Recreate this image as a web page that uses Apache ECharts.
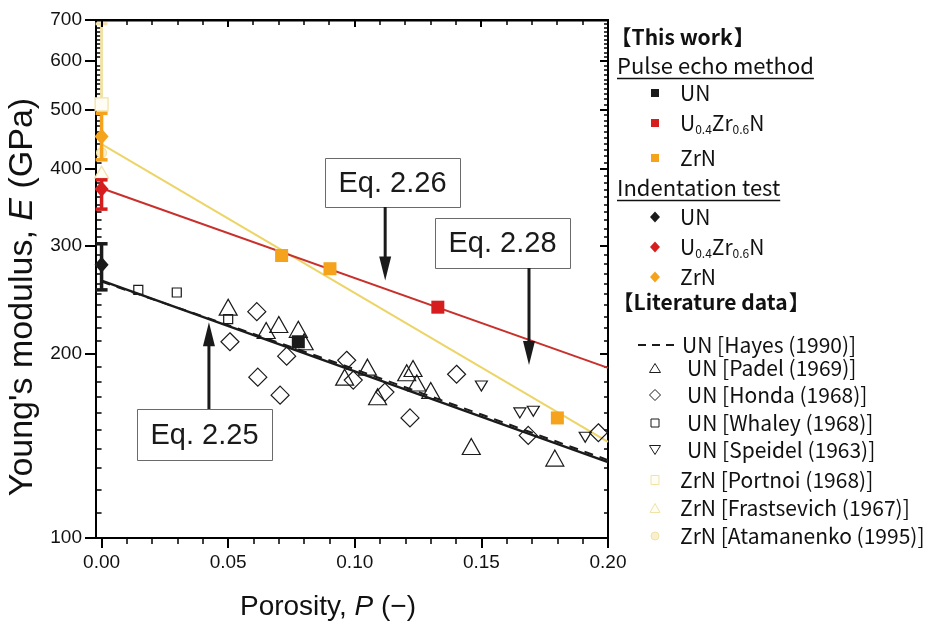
<!DOCTYPE html>
<html>
<head>
<meta charset="utf-8">
<script src="https://cdn.jsdelivr.net/npm/echarts@6/dist/echarts.min.js"></script>
<style>
  html, body { margin: 0; padding: 0; background: #ffffff; }
  #main { width: 933px; height: 627px; }
</style>
</head>
<body>
<div id="main"></div>
<script>
// Young's modulus E (GPa) of UN, U0.4Zr0.6N and ZrN against porosity P (-)

// ---- axes ----
const xRange = [-0.0022, 0.20];
const yRange = [100, 700];
const xMajorTicks = [0, 0.05, 0.10, 0.15, 0.20];
const xMinorTicks = [0.01, 0.02, 0.03, 0.04, 0.06, 0.07, 0.08, 0.09, 0.11, 0.12, 0.13, 0.14, 0.16, 0.17, 0.18, 0.19];
const yMajorTicks = [100, 200, 300, 400, 500, 600, 700];
const yMinorTicks = [];
for (let v = 110; v < 700; v += 10) { if (v % 100 !== 0) yMinorTicks.push(v); }

// ---- this work: pulse echo method [P, E] ----
const pulseUN = [[0.0777, 209]];
const pulseUZrN = [[0.1328, 238]];
const pulseZrN = [[0.0711, 289], [0.0902, 275], [0.180, 157]];

// ---- this work: indentation test [P, E, low, high] ----
const indentUN = [[0, 279, 254, 302]];
const indentUZrN = [[0, 371, 344, 384]];
const indentZrN = [[0, 452, 414, 493]];

// ---- fitted relations [P, E] ----
const eq225UN = [[0, 263], [0.20, 133]];
const eq226UZrN = [[0, 372], [0.20, 189.5]];
const eq228ZrN = [[0, 439], [0.20, 143.5]];

// ---- literature data ----
const hayesUN = [[0, 262], [0.05, 222.5], [0.10, 188.5], [0.15, 159], [0.20, 134]];
const padelUN = [[0.050, 238], [0.065, 218], [0.070, 223], [0.0777, 219], [0.080, 209],
  [0.096, 183], [0.105, 190], [0.109, 170], [0.1205, 186], [0.123, 189], [0.1245, 179],
  [0.130, 174], [0.146, 141], [0.179, 135]];
const hondaUN = [[0.0507, 209], [0.0613, 234], [0.0617, 183], [0.0705, 171], [0.0731, 198],
  [0.0968, 195], [0.0994, 181], [0.1119, 173], [0.1218, 157], [0.1402, 185], [0.1685, 147],
  [0.1962, 148.5]];
const whaleyUN = [[0.0145, 254], [0.0297, 251.5], [0.050, 227.5]];
const speidelUN = [[0.150, 177], [0.1652, 160], [0.1705, 161], [0.191, 146]];
const portnoiZrN = [[0, 510, 510, 690]];
const frastsevichZrN = [[0, 395]];
const atamanenkoZrN = [[0, 425]];

// ---- colours ----
const BLACK = '#1b1b1b';
const RED = '#d61e1e';
const RED_LINE = '#c8302c';
const ORANGE = '#f5a21c';
const YELLOW_LINE = '#ecd566';
const PALE = '#f8efcf';
const PALE_EDGE = '#f1e2a8';

const FONT = '"Liberation Sans", Arial, sans-serif';
const LFONT = '"Noto Sans CJK JP", "Noto Sans", sans-serif';

const chart = echarts.init(document.getElementById('main'), null, { renderer: 'canvas' });

const GRID = { left: 96, top: 20, width: 512, height: 518, containLabel: false, outerBoundsMode: 'none' };

const xBase = {
  type: 'value', min: xRange[0], max: xRange[1],
  splitLine: { show: false }, axisLine: { show: false },
  axisLabel: { show: false }, axisTick: { show: false }
};
const yBase = {
  type: 'log', logBase: 10, min: yRange[0], max: yRange[1],
  splitLine: { show: false }, axisLine: { show: false },
  axisLabel: { show: false }, axisTick: { show: false }
};
function frameLine() { return { show: true, onZero: false, lineStyle: { color: '#000', width: 2 } }; }

function errorBars(color, width, z) {
  return {
    type: 'custom', z: z, xAxisIndex: 0, yAxisIndex: 0,
    renderItem: function (params, api) {
      const x = api.value(0);
      const top = api.coord([x, api.value(3)]);
      const bot = api.coord([x, api.value(2)]);
      const cap = 6;
      const st = { stroke: color, lineWidth: width };
      return {
        type: 'group', children: [
          { type: 'line', shape: { x1: top[0], y1: top[1], x2: bot[0], y2: bot[1] }, style: st },
          { type: 'line', shape: { x1: top[0] - cap, y1: top[1], x2: top[0] + cap, y2: top[1] }, style: st },
          { type: 'line', shape: { x1: bot[0] - cap, y1: bot[1], x2: bot[0] + cap, y2: bot[1] }, style: st }
        ]
      };
    },
    encode: { x: 0, y: 1 }
  };
}

function scatter(name, data, symbol, size, fill, stroke, z, rotate) {
  return {
    name: name, type: 'scatter', data: data, symbol: symbol, symbolSize: size,
    symbolRotate: rotate || 0, z: z, xAxisIndex: 0, yAxisIndex: 0,
    itemStyle: { color: fill, borderColor: stroke, borderWidth: stroke ? 1.2 : 0, opacity: 1 },
    emphasis: { disabled: true }, silent: true
  };
}

function fitLine(name, data, color, width, type, z) {
  return {
    name: name, type: 'line', data: data, showSymbol: false, z: z, silent: true,
    xAxisIndex: 0, yAxisIndex: 0,
    lineStyle: { color: color, width: width, type: type || 'solid' }
  };
}

const option = {
  backgroundColor: '#ffffff',
  animation: false,
  // grid 0 carries the data and the major ticks; grid 1 (same box) the minor ticks
  grid: [Object.assign({}, GRID), Object.assign({}, GRID)],
  xAxis: [
    Object.assign({}, xBase, {
      gridIndex: 0, position: 'bottom',
      name: 'Porosity, {i|P} (\u2212)', nameLocation: 'middle', nameGap: 55,
      nameTextStyle: { fontSize: 28, fontFamily: FONT, color: '#111', padding: [0, 48, 0, 0],
        rich: { i: { fontSize: 28, fontFamily: FONT, fontStyle: 'italic', color: '#111' } } },
      axisLine: frameLine(),
      axisTick: { show: true, inside: false, length: 10, lineStyle: { color: '#000', width: 2 }, customValues: xMajorTicks },
      axisLabel: { show: true, customValues: xMajorTicks, margin: 15, fontSize: 19, fontFamily: FONT, color: '#111',
        formatter: function (v) { return v.toFixed(2); } }
    }),
    Object.assign({}, xBase, {
      gridIndex: 1, position: 'bottom',
      axisTick: { show: true, inside: false, length: 6, lineStyle: { color: '#000', width: 1.5 }, customValues: xMinorTicks }
    })
  ],
  yAxis: [
    Object.assign({}, yBase, {
      gridIndex: 0, position: 'left',
      name: "Young's modulus, {i|E} (GPa)", nameLocation: 'middle', nameGap: 52,
      nameTextStyle: { fontSize: 34, fontFamily: FONT, color: '#111', padding: [0, 36, 0, 0],
        rich: { i: { fontSize: 34, fontFamily: FONT, fontStyle: 'italic', color: '#111' } } },
      axisLine: frameLine(),
      axisTick: { show: true, inside: false, length: 11, lineStyle: { color: '#000', width: 2 }, customValues: yMajorTicks },
      axisLabel: { show: true, customValues: yMajorTicks, margin: 14, fontSize: 19, fontFamily: FONT, color: '#111',
        formatter: function (v) { return String(Math.round(v)); } }
    }),
    Object.assign({}, yBase, {
      gridIndex: 0, position: 'right',
      axisLine: frameLine(),
      axisTick: { show: true, inside: true, length: 8, lineStyle: { color: '#000', width: 2 }, customValues: yMajorTicks }
    }),
    Object.assign({}, yBase, {
      gridIndex: 1, position: 'left',
      axisTick: { show: true, inside: false, length: 5, lineStyle: { color: '#000', width: 1.5 }, customValues: yMinorTicks }
    }),
    Object.assign({}, yBase, {
      gridIndex: 1, position: 'right',
      axisTick: { show: true, inside: true, length: 4, lineStyle: { color: '#000', width: 1.5 }, customValues: yMinorTicks }
    })
  ],
  series: [
    // faint ZrN literature values
    Object.assign(errorBars(PALE_EDGE, 3, 1), { data: portnoiZrN }),
    scatter('ZrN [Portnoi (1968)]', portnoiZrN.map(d => [d[0], d[1]]), 'rect', 13, '#fffdf4', PALE_EDGE, 2),
    scatter('ZrN [Frastsevich (1967)]', frastsevichZrN, 'triangle', [14, 12], '#fffdf4', PALE_EDGE, 2),
    scatter('ZrN [Atamanenko (1995)]', atamanenkoZrN, 'circle', 10, PALE, PALE_EDGE, 2),

    // fitted relations
    fitLine('Eq. 2.28', eq228ZrN, YELLOW_LINE, 2, 'solid', 3),
    fitLine('Eq. 2.26', eq226UZrN, RED_LINE, 2, 'solid', 3),
    fitLine('UN [Hayes (1990)]', hayesUN, BLACK, 2, [9, 7], 3),
    fitLine('Eq. 2.25', eq225UN, BLACK, 2.4, 'solid', 4),

    // literature UN data (open symbols)
    scatter('UN [Padel (1969)]', padelUN, 'triangle', [18, 16], 'rgba(255,255,255,0)', BLACK, 5),
    scatter('UN [Honda (1968)]', hondaUN, 'diamond', [18, 18], 'rgba(255,255,255,0)', BLACK, 5),
    scatter('UN [Whaley (1968)]', whaleyUN, 'rect', 9, 'rgba(255,255,255,0)', BLACK, 5),
    scatter('UN [Speidel (1963)]', speidelUN, 'triangle', [12, 10], 'rgba(255,255,255,0)', BLACK, 5, 180),

    // pulse echo method
    scatter('UN pulse echo', pulseUN, 'rect', 13, BLACK, null, 6),
    scatter('U0.4Zr0.6N pulse echo', pulseUZrN, 'rect', 13, RED, null, 6),
    scatter('ZrN pulse echo', pulseZrN, 'rect', 13, ORANGE, null, 6),

    // indentation test
    Object.assign(errorBars(BLACK, 3.5, 7), { data: indentUN }),
    Object.assign(errorBars(RED, 3.5, 7), { data: indentUZrN }),
    Object.assign(errorBars(ORANGE, 3.5, 7), { data: indentZrN }),
    scatter('UN indentation', indentUN.map(d => [d[0], d[1]]), 'diamond', [14, 16], BLACK, null, 8),
    scatter('U0.4Zr0.6N indentation', indentUZrN.map(d => [d[0], d[1]]), 'diamond', [14, 16], RED, null, 8),
    scatter('ZrN indentation', indentZrN.map(d => [d[0], d[1]]), 'diamond', [14, 16], ORANGE, null, 8)
  ]
};

chart.setOption(option);

const graphics = [];

// ---- top edge of the frame with its inward ticks, placed through the x scale ----
const corner0 = chart.convertToPixel({ xAxisIndex: 0, yAxisIndex: 0 }, [xRange[0], yRange[1]]);
const corner1 = chart.convertToPixel({ xAxisIndex: 0, yAxisIndex: 0 }, [xRange[1], yRange[1]]);
const topY = Math.round(corner0[1]);
graphics.push({ type: 'rect', z: 100, zlevel: 1,
  shape: { x: Math.round(corner0[0]) - 1, y: topY - 1, width: Math.round(corner1[0] - corner0[0]) + 2, height: 2.5 },
  style: { fill: '#000' } });
xMajorTicks.concat(xMinorTicks).forEach(function (v) {
  const px = Math.round(chart.convertToPixel({ xAxisIndex: 0 }, v));
  const major = xMajorTicks.indexOf(v) >= 0;
  graphics.push({ type: 'rect', z: 100, zlevel: 1,
    shape: { x: px - (major ? 1 : 0.75), y: topY, width: major ? 2 : 1.5, height: major ? 7 : 5 },
    style: { fill: '#000' } });
});

// ---- equation call-outs: arrow tip sits on the curve, box at the tail ----
const callouts = [
  { text: 'Eq. 2.26', tip: [0.112, 263], dir: 'down', box: [325, 158, 135, 49] },
  { text: 'Eq. 2.28', tip: [0.1688, 191.5], dir: 'down', box: [435, 218, 135, 50] },
  { text: 'Eq. 2.25', tip: [0.0424, 225], dir: 'up', box: [137, 409, 135, 51] }
];
callouts.forEach(function (c) {
  const p = chart.convertToPixel({ xAxisIndex: 0, yAxisIndex: 0 }, c.tip);
  const b = c.box;
  const tailY = c.dir === 'down' ? b[1] + b[3] : b[1];
  const headLen = 24, headW = 6;
  const baseY = c.dir === 'down' ? p[1] - headLen : p[1] + headLen;
  graphics.push({ type: 'rect', shape: { x: b[0] + 0.5, y: b[1] + 0.5, width: b[2], height: b[3] },
    style: { fill: '#fff', stroke: '#6a6a6a', lineWidth: 1 }, z: 20 });
  graphics.push({ type: 'text', x: b[0] + b[2] / 2, y: b[1] + b[3] / 2 + 1, z: 21,
    style: { text: c.text, font: '29px ' + FONT, fill: '#1a1a1a', align: 'center', verticalAlign: 'middle' } });
  graphics.push({ type: 'line', shape: { x1: p[0], y1: tailY, x2: p[0], y2: baseY + (c.dir === 'down' ? 2 : -2) },
    style: { stroke: '#1a1a1a', lineWidth: 3 }, z: 20 });
  graphics.push({ type: 'polygon', shape: { points: [[p[0] - headW, baseY], [p[0] + headW, baseY], [p[0], p[1]]] },
    style: { fill: '#1a1a1a' }, z: 20 });
});

// ---- legend block on the right ----
const LX = 655;     // marker column
const TX = 680;     // text column
const LSIZE = 21;
const measureCtx = document.createElement('canvas').getContext('2d');
function textWidth(text, font) { measureCtx.font = font; return measureCtx.measureText(text).width; }
const sub = {
  t: { fontSize: LSIZE, fontFamily: LFONT, color: '#111', lineHeight: 24 },
  s: { fontSize: 12, fontFamily: LFONT, color: '#111', lineHeight: 12, verticalAlign: 'bottom' }
};
function legendText(x, y, text) {
  graphics.push({ type: 'text', x: x, y: y, z: 30,
    style: { text: text, rich: sub, font: LSIZE + 'px ' + LFONT, fill: '#111', verticalAlign: 'middle' } });
}
// underlined sub-heading
function heading(x, y, text) {
  const font = '22px ' + LFONT;
  graphics.push({ type: 'text', x: x, y: y, z: 30, style: { text: text, font: font, fill: '#111', verticalAlign: 'middle' } });
  const w = textWidth(text, font);
  graphics.push({ type: 'line', shape: { x1: x, y1: y + 12.5, x2: x + w, y2: y + 12.5 },
    style: { stroke: '#111', lineWidth: 1.5 }, z: 30 });
}
// bracketed section title with tightened brackets
function section(x, y, text) {
  const font = 'bold 21px ' + LFONT;
  const bw = textWidth('\u3010', font);
  const tw = textWidth(text, font);
  graphics.push({ type: 'text', x: x - bw * 0.45, y: y, z: 30, style: { text: '\u3010', font: font, fill: '#111', verticalAlign: 'middle' } });
  graphics.push({ type: 'text', x: x + bw * 0.55, y: y, z: 30, style: { text: text, font: font, fill: '#111', verticalAlign: 'middle' } });
  graphics.push({ type: 'text', x: x + bw * 0.6 + tw, y: y, z: 30, style: { text: '\u3011', font: font, fill: '#111', verticalAlign: 'middle' } });
}
function marker(symbol, y, size, fill, stroke, rotate) {
  const style = { fill: fill, stroke: stroke || null, lineWidth: stroke ? 1 : 0 };
  const w = size[0], h = size[1];
  let pts;
  if (symbol === 'circle') {
    graphics.push({ type: 'circle', z: 30, shape: { cx: LX, cy: y, r: w / 2 }, style: style });
    return;
  }
  if (symbol === 'rect') pts = [[-w / 2, -h / 2], [w / 2, -h / 2], [w / 2, h / 2], [-w / 2, h / 2]];
  if (symbol === 'diamond') pts = [[0, -h / 2], [w / 2, 0], [0, h / 2], [-w / 2, 0]];
  if (symbol === 'triangle') pts = rotate ? [[-w / 2, -h / 2], [w / 2, -h / 2], [0, h / 2]] : [[0, -h / 2], [w / 2, h / 2], [-w / 2, h / 2]];
  graphics.push({ type: 'polygon', z: 30, shape: { points: pts.map(p => [LX + p[0], y + p[1]]) }, style: style });
}

section(620, 37, 'This work');
heading(617, 66, 'Pulse echo method');
marker('rect', 93, [8, 8], BLACK);            legendText(TX, 93, '{t|UN}');
marker('rect', 123, [8, 8], RED);             legendText(TX, 123, '{t|U}{s|0.4}{t|Zr}{s|0.6}{t|N}');
marker('rect', 158, [8, 8], ORANGE);          legendText(TX, 158, '{t|ZrN}');
heading(617, 188, 'Indentation test');
marker('diamond', 217, [10, 11], BLACK);      legendText(TX, 217, '{t|UN}');
marker('diamond', 247, [10, 11], RED);        legendText(TX, 247, '{t|U}{s|0.4}{t|Zr}{s|0.6}{t|N}');
marker('diamond', 277, [10, 11], ORANGE);     legendText(TX, 277, '{t|ZrN}');
section(622, 302, 'Literature data');
graphics.push({ type: 'line', z: 30, shape: { x1: 638, y1: 345, x2: 680, y2: 345 },
  style: { stroke: BLACK, lineWidth: 2, lineDash: [8, 6] } });
legendText(682, 345, '{t|UN [Hayes (1990)]}');
marker('triangle', 368, [11, 9], '#fff', BLACK); legendText(687, 368, '{t|UN [Padel (1969)]}');
marker('diamond', 395, [11, 11], '#fff', BLACK); legendText(687, 395, '{t|UN [Honda (1968)]}');
marker('rect', 423, [8, 8], '#fff', BLACK);      legendText(687, 423, '{t|UN [Whaley (1968)]}');
marker('triangle', 450, [11, 9], '#fff', BLACK, true); legendText(687, 450, '{t|UN [Speidel (1963)]}');
marker('rect', 480, [8, 9], '#fffdf4', PALE_EDGE);      legendText(TX, 480, '{t|ZrN [Portnoi (1968)]}');
marker('triangle', 508, [10, 9], '#fffdf4', PALE_EDGE); legendText(TX, 508, '{t|ZrN [Frastsevich (1967)]}');
marker('circle', 536, [8, 8], PALE, PALE_EDGE);         legendText(TX, 536, '{t|ZrN [Atamanenko (1995)]}');

chart.setOption({ graphic: graphics });
</script>
</body>
</html>
